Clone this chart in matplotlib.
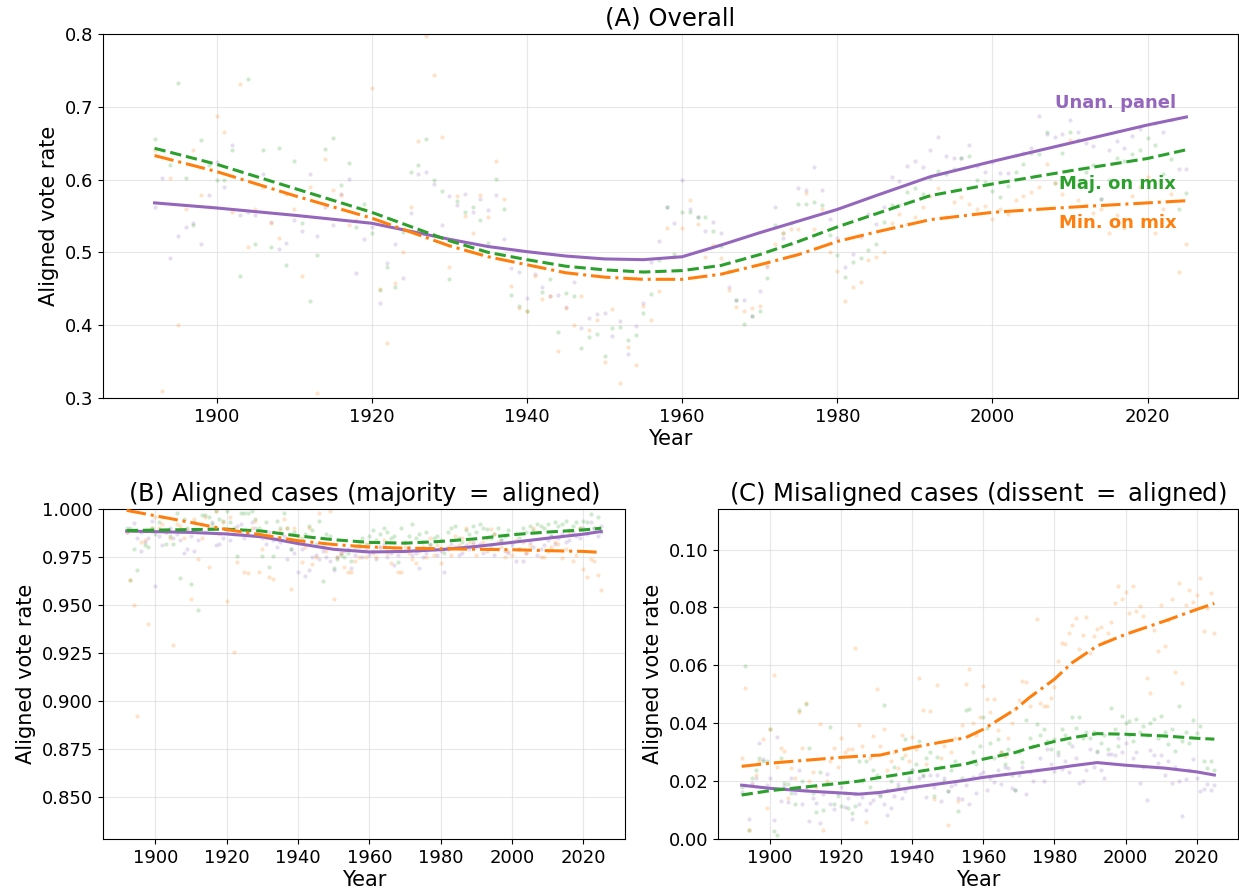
import numpy as np
import matplotlib
matplotlib.use("Agg")
import matplotlib.pyplot as plt

# yearly points, 1892-2025
years = np.arange(1892, 2026)

# (A) overall, yearly rates
a_unan = [.562, .602, .492, .522, .535, .540, .511, .579,
          .624, .590, .648, .551, .556, .552, .608, .542, .504, .513,
          .544, .529, .608, .522, .562, .538, .580, .601, .472, .518,
          .535, .430, .485, .511, .465, .554, .608, .611, .594, .538,
          .577, .565, .580, .556, .574, .558, .579, .519, .478, .473,
          .437, .470, .452, .440, .442, .425, .459, .396, .410, .415,
          .417, .385, .406, .361, .399, .430, .487, .516, .563, .540,
          .600, .560, .548, .530, .542, .527, .452, .434, .434, .412,
          .447, .480, .562, .520, .512, .589, .585, .617, .585, .546,
          .520, .480, .498, .521, .553, .539, .563, .603, .598, .618,
          .626, .617, .641, .659, .633, .630, .630, .647, .619, .610,
          .624, .609, .609, .634, .637, .644, .688, .662, .659, .663,
          .682, .665, .650, .646, .574, .640, .653, .644, .660, .670,
          .702, .678, .665, .682, .614, .614]
a_maj = [.656, .640, .620, .732, .602, .538, .655, .620,
         .600, .599, .640, .467, .738, .512, .641, .507, .643, .482,
         .626, .541, .433, .496, .642, .657, .593, .623, .535, .567,
         .527, .448, .480, .452, .528, .610, .620, .656, .600, .584,
         .463, .570, .555, .563, .545, .513, .601, .560, .441, .427,
         .419, .481, .446, .463, .390, .444, .440, .369, .384, .388,
         .358, .396, .397, .380, .386, .417, .443, .490, .562, .498,
         .555, .555, .548, .548, .529, .509, .474, .434, .401, .412,
         .420, .465, .537, .527, .540, .566, .566, .569, .565, .524,
         .496, .466, .487, .492, .503, .512, .542, .565, .565, .583,
         .589, .580, .602, .612, .608, .615, .630, .633, .599, .597,
         .584, .576, .591, .610, .622, .637, .635, .666, .595, .637,
         .665, .654, .610, .620, .574, .600, .630, .625, .635, .640,
         .657, .647, .608, .628, .559, .581]
a_min = [.640, .310, .602, .400, .560, .641, .579, .562,
         .688, .666, .555, .731, .507, .560, .590, .540, .520, .580,
         .560, .467, .590, .307, .628, .586, .579, .537, .545, .560,
         .726, .450, .375, .458, .500, .562, .653, .797, .743, .659,
         .480, .578, .550, .527, .579, .548, .625, .573, .454, .424,
         .420, .467, .436, .440, .364, .423, .400, .440, .394, .407,
         .349, .422, .320, .370, .345, .426, .407, .447, .533, .494,
         .533, .572, .539, .493, .510, .492, .448, .425, .420, .424,
         .426, .482, .512, .527, .532, .532, .581, .532, .560, .500,
         .474, .433, .453, .460, .490, .493, .501, .540, .553, .539,
         .548, .563, .578, .589, .548, .569, .576, .567, .560, .564,
         .546, .560, .553, .572, .578, .583, .590, .621, .595, .580,
         .654, .572, .565, .554, .560, .527, .551, .534, .578, .590,
         .603, .527, .560, .580, .473, .512]

# (B) aligned cases, yearly rates
b_unan = [.988, .990, .9925, .985, .978, .983, .985, .994,
          .960, .986, .9815, .988, .990, .985, .987, .984, .977, .979,
          .986, .978, .984, .992, .988, .990, .993, .981, .982, .985,
          .989, .984, .987, .991, .992, .985, .988, .993, .990, .986,
          .985, .982, .988, .984, .980, .983, .986, .974, .979, .977,
          .967, .979, .965, .968, .975, .976, .974, .978, .975, .973,
          .968, .975, .977, .978, .979, .969, .976, .980, .975, .979,
          .976, .978, .974, .980, .982, .975, .977, .971, .976, .978,
          .978, .980, .976, .977, .969, .975, .977, .981, .979, .976,
          .978, .967, .979, .982, .980, .976, .977, .981, .979, .983,
          .980, .982, .977, .978, .980, .976, .979, .984, .978, .977,
          .981, .973, .979, .973, .977, .983, .980, .976, .979, .981,
          .984, .986, .982, .985, .987, .983, .984, .988, .986, .985,
          .990, .987, .993, .990, .986, .991]
b_maj = [.990, .963, .979, .968, .988, .981, .980, .990,
         .987, .993, .996, .982, .986, .982, .998, .964, .995, .990,
         .961, .993, .9475, .997, .997, .996, .992, .999, .995, .994,
         .999, .993, .990, .9755, .998, .998, .998, .999, .995, .990,
         .9755, .993, .970, .9755, .994, .990, .998, .990, .979, .988,
         .983, .985, .987, .991, .989, .982, .994, .9627, .987, .986,
         .969, .974, .976, .975, .977, .973, .980, .981, .985, .982,
         .986, .989, .984, .987, .990, .988, .985, .986, .9726, .990,
         .983, .986, .992, .985, .987, .983, .988, .982, .985, .986,
         .984, .977, .988, .990, .991, .985, .983, .989, .987, .991,
         .988, .992, .990, .9897, .985, .987, .990, .984, .986, .989,
         .983, .987, .985, .990, .988, .991, .989, .992, .991, .990,
         .992, .986, .993, .991, .992, .994, .989, .991, .993, .990,
         .994, .993, .9972, .990, .996, .988]
b_min = [.988, .9628, .9498, .892, .983, .984, .940, .990,
         .996, .990, .992, .988, .985, .9293, .992, .991, .985, .989,
         .9533, .995, .9737, .985, .996, .970, .990, .999, .987, .993,
         .952, .996, .9253, .9725, .988, .967, .9665, .990, .994, .967,
         .979, .985, .9646, .9637, .985, .989, .995, .990, .9585, .990,
         .986, .9722, .980, .990, .9715, .975, .998, .980, .978, .999,
         .953, .975, .977, .970, .967, .967, .973, .975, .978, .975,
         .982, .977, .975, .980, .984, .977, .972, .979, .967, .967,
         .980, .977, .974, .972, .978, .980, .975, .985, .976, .981,
         .972, .979, .980, .976, .986, .981, .985, .990, .983, .982,
         .976, .980, .983, .985, .9895, .987, .983, .980, .975, .978,
         .976, .984, .979, .983, .977, .981, .990, .988, .975, .975,
         .978, .980, .983, .982, .9745, .979, .988, .9727, .976, .990,
         .9688, .9645, .974, .973, .9657, .958]

# (C) misaligned cases, yearly rates
c_unan = [.0161, .0185, .007, .0193, .021, .0333, .0276, .0186,
          .021, .0067, .0352, .013, .0184, .0129, .021, .016, .0237, .012,
          .0172, .0063, .014, .0123, .0055, .0155, .0224, .012, .0103, .016,
          .018, .011, .014, .007, .0155, .012, .0145, .010, .0123, .0135,
          .016, .0152, .012, .0082, .0106, .015, .019, .0143, .0165, .021,
          .0238, .018, .021, .0216, .0145, .022, .018, .022, .0131, .021,
          .0165, .0182, .019, .014, .0138, .0185, .012, .0213, .016, .0225,
          .023, .0168, .021, .0198, .024, .019, .025, .0246, .0175, .0168,
          .022, .025, .0156, .023, .020, .024, .028, .0202, .0311, .026,
          .0236, .029, .0241, .027, .023, .0322, .028, .0195, .0201, .024,
          .031, .025, .030, .024, .021, .0293, .0293, .029, .0349, .030,
          .033, .0358, .028, .030, .0193, .025, .0136, .0308, .029, .0264,
          .029, .022, .027, .0193, .025, .020, .0078, .0208, .024, .0277,
          .021, .0167, .0173, .019, .017, .0185]
c_maj = [.018, .0598, .0032, .021, .024, .028, .027, .027,
         .0381, .0026, .0014, .0279, .0195, .019, .016, .012, .0446, .020,
         .0467, .0313, .016, .0093, .023, .010, .019, .0386, .012, .015,
         .0115, .016, .0107, .009, .0115, .0269, .020, .0269, .018, .024,
         .022, .015, .0462, .017, .020, .025, .018, .028, .0345, .020,
         .024, .026, .0338, .022, .028, .030, .0148, .0283, .025, .020,
         .0165, .024, .027, .0097, .021, .0446, .0449, .030, .026, .032,
         .0423, .0385, .033, .028, .0345, .030, .0259, .031, .022, .0168,
         .030, .0265, .0412, .035, .032, .0397, .036, .038, .034, .031,
         .0345, .030, .038, .036, .033, .042, .0384, .0423, .035, .037,
         .0348, .037, .0304, .033, .036, .031, .0453, .038, .032, .0425,
         .040, .0408, .034, .0416, .037, .039, .036, .040, .0414, .035,
         .0425, .037, .0327, .038, .0304, .046, .034, .037, .033, .041,
         .0365, .0391, .0269, .0246, .027, .024]
c_min = [.028, .052, .003, .0185, .022, .027, .0345, .0106,
         .0381, .0568, .025, .0313, .0305, .014, .0245, .021, .0439, .0316,
         .047, .020, .023, .018, .0399, .0032, .020, .027, .0316, .025,
         .035, .030, .031, .031, .0659, .0393, .032, .0059, .028, .0357,
         .0517, .0322, .038, .024, .027, .030, .0246, .036, .029, .027,
         .0352, .031, .0557, .0444, .026, .0443, .0138, .0533, .028, .032,
         .005, .030, .035, .013, .0393, .0534, .0586, .040, .036, .042,
         .053, .0483, .044, .0483, .0377, .030, .0287, .035, .040, .045,
         .048, .0546, .0542, .046, .050, .0759, .0471, .0458, .0458, .0488,
         .0525, .0616, .0676, .0674, .0713, .074, .0765, .0655, .0705, .0766,
         .0644, .0701, .0724, .0732, .068, .0713, .075, .0816, .0874, .0828,
         .0853, .078, .0874, .0787, .0804, .077, .0556, .0503, .0721, .0651,
         .0809, .0667, .0756, .0829, .0578, .0886, .0538, .0809, .086, .082,
         .0842, .0902, .0719, .0799, .085, .071]

# smoothed trends
a_fit_years = [1892, 1900, 1910, 1920, 1930, 1935, 1940, 1945, 1950, 1955, 1960,
               1965, 1970, 1975, 1980, 1985, 1992, 2000, 2010, 2020, 2025]
a_fit_unan = [.568, .561, .551, .540, .518, .508, .501, .495, .491, .490, .494,
              .510, .527, .543, .559, .578, .604, .625, .650, .675, .686]
a_fit_maj = [.643, .621, .588, .555, .516, .500, .490, .481, .476, .473, .475,
             .482, .497, .515, .535, .553, .578, .594, .612, .629, .641]
a_fit_min = [.633, .611, .578, .547, .509, .494, .483, .472, .466, .463, .463,
             .470, .483, .497, .515, .528, .545, .555, .562, .568, .571]

b_fit_years = [1892, 1900, 1910, 1920, 1930, 1940, 1950, 1960, 1970,
               1980, 1990, 2000, 2010, 2020, 2025]
b_fit_unan = [.9885, .9882, .9878, .9870, .9855, .9820, .9790, .9776, .9779,
              .9788, .9805, .9826, .9848, .9869, .9883]
b_fit_maj = [.9888, .9890, .9893, .9895, .9885, .9860, .9840, .9826, .9822,
             .9831, .9845, .9866, .9880, .9891, .9900]
b_fit_min = [.9993, .9965, .9930, .9893, .9865, .9835, .9815, .9802, .9796,
             .9793, .9790, .9788, .9783, .9779, .9774]

c_fit_years = [1892, 1900, 1910, 1920, 1925, 1931, 1940, 1955, 1960, 1969,
               1973, 1980, 1985, 1992, 2000, 2011, 2020, 2025]
c_fit_unan = [.0186, .0175, .0166, .0159, .0155, .0161, .0178, .0203, .0213, .0227,
              .0233, .0244, .0253, .0264, .0255, .0245, .0232, .0221]
c_fit_maj = [.0152, .0167, .0180, .0193, .0200, .0213, .0230, .0259, .0276, .0299,
             .0315, .0337, .0350, .0364, .0362, .0356, .0348, .0345]
c_fit_min = [.0251, .0262, .0272, .0282, .0286, .0290, .0316, .0350, .0379, .0448,
             .0489, .0552, .0609, .0667, .0707, .0753, .0793, .0814]

purple, green, orange = "#9467bd", "#2ca02c", "#ff7f0e"

fig = plt.figure(figsize=(12.39, 8.96), dpi=100)
ax_a = fig.add_axes([0.0831, 0.5558, 0.9161, 0.4063])
ax_b = fig.add_axes([0.0831, 0.0636, 0.4213, 0.3683])
ax_c = fig.add_axes([0.5795, 0.0636, 0.4197, 0.3683])

panels = [
    (ax_a, (a_unan, a_maj, a_min), a_fit_years, (a_fit_unan, a_fit_maj, a_fit_min), "(A) Overall"),
    (ax_b, (b_unan, b_maj, b_min), b_fit_years, (b_fit_unan, b_fit_maj, b_fit_min),
     "(B) Aligned cases (majority $=$ aligned)"),
    (ax_c, (c_unan, c_maj, c_min), c_fit_years, (c_fit_unan, c_fit_maj, c_fit_min),
     "(C) Misaligned cases (dissent $=$ aligned)"),
]
colors = [purple, green, orange]
styles = ["-", "--", "-."]

for ax, pts, fy, fits, title in panels:
    for vals, col in zip(pts, colors):
        ax.scatter(years, vals, s=9, color=col, alpha=0.22, linewidths=0, zorder=1)
    for vals, col, ls in zip(fits, colors, styles):
        ax.plot(fy, vals, ls, color=col, lw=2.2, zorder=3)
    ax.grid(True, color="#dddddd", lw=0.8, alpha=0.7)
    ax.set_axisbelow(True)
    ax.set_title(title, fontsize=17.5, pad=6)
    ax.set_xlabel("Year", fontsize=15, labelpad=2)
    ax.set_ylabel("Aligned vote rate", fontsize=15)
    ax.set_xticks([1900, 1920, 1940, 1960, 1980, 2000, 2020])
    ax.tick_params(labelsize=13)

ax_a.set_ylim(0.3, 0.8)
ax_a.set_yticks([0.3, 0.4, 0.5, 0.6, 0.7, 0.8])
ax_a.set_yticklabels(["0.3", "0.4", "0.5", "0.6", "0.7", "0.8"])

ax_b.set_ylim(0.828, 1.0)
ax_b.set_yticks([0.85, 0.875, 0.9, 0.925, 0.95, 0.975, 1.0])
ax_b.set_yticklabels(["0.850", "0.875", "0.900", "0.925", "0.950", "0.975", "1.000"])

ax_c.set_ylim(0.0, 0.114)
ax_c.set_yticks([0.0, 0.02, 0.04, 0.06, 0.08, 0.10])
ax_c.set_yticklabels(["0.00", "0.02", "0.04", "0.06", "0.08", "0.10"])

ax_a.text(2023.7, 0.7045, "Unan. panel", color=purple, fontsize=13, fontweight="bold",
          ha="right", va="center")
ax_a.text(2023.7, 0.594, "Maj. on mix", color=green, fontsize=13, fontweight="bold",
          ha="right", va="center")
ax_a.text(2023.7, 0.540, "Min. on mix", color=orange, fontsize=13, fontweight="bold",
          ha="right", va="center")

fig.savefig("out.png", dpi=100)
